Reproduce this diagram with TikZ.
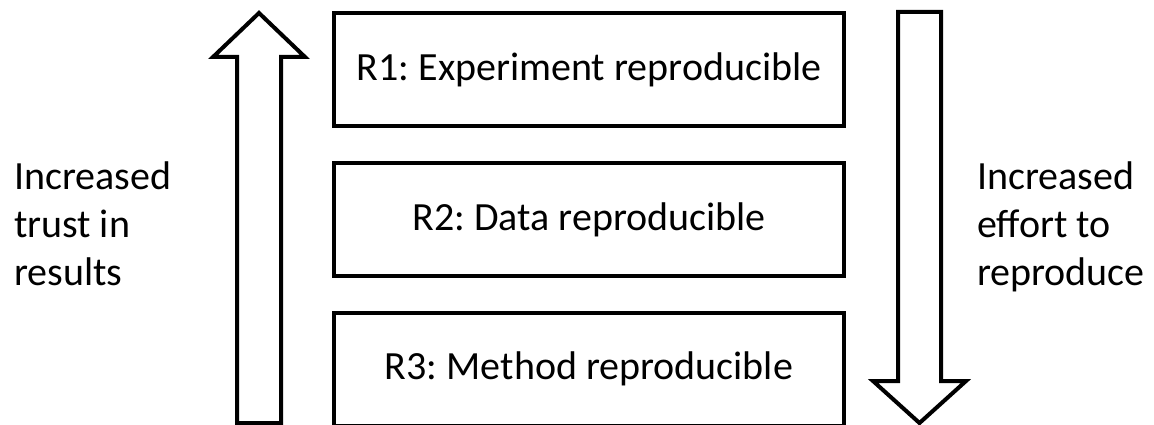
\documentclass[tikz,border=0pt]{standalone}
\usepackage{fontspec}
\setmainfont{Carlito}
\frenchspacing
\usepackage{tikz}
\usetikzlibrary{positioning}

\begin{document}
\begin{tikzpicture}[x=1pt, y=-1pt, line width=4pt, line join=miter,
    level/.style={draw, minimum width=510pt, minimum height=113pt, inner sep=0pt,
      font=\fontsize{40}{48}\selectfont},
    side/.style={align=left, inner sep=0pt, anchor=base west,
      font=\fontsize{40}{48}\selectfont}]
  \useasboundingbox (0,0) rectangle (1154,425);
  \node[level] (r1) at (589,70) {R1: Experiment reproducible};
  \node[level] (r2) at (589,219.5) {R2: Data reproducible};
  \node[level] (r3) at (589,369) {R3: Method reproducible};

  % block arrows
  \draw (237,423) -- (237,57) -- (213,57) -- (259,13) -- (305,57)
    -- (281,57) -- (281,423) -- cycle;
  \draw (898,12) -- (898,381) -- (873,381) -- (919.5,423) -- (966,381)
    -- (941,381) -- (941,12) -- cycle;

  \node[side] (trust) at (12,285) {Increased\\trust in\\results};
  \node[side] (effort) at (975,285) {Increased\\effort to\\reproduce};
\end{tikzpicture}
\end{document}
